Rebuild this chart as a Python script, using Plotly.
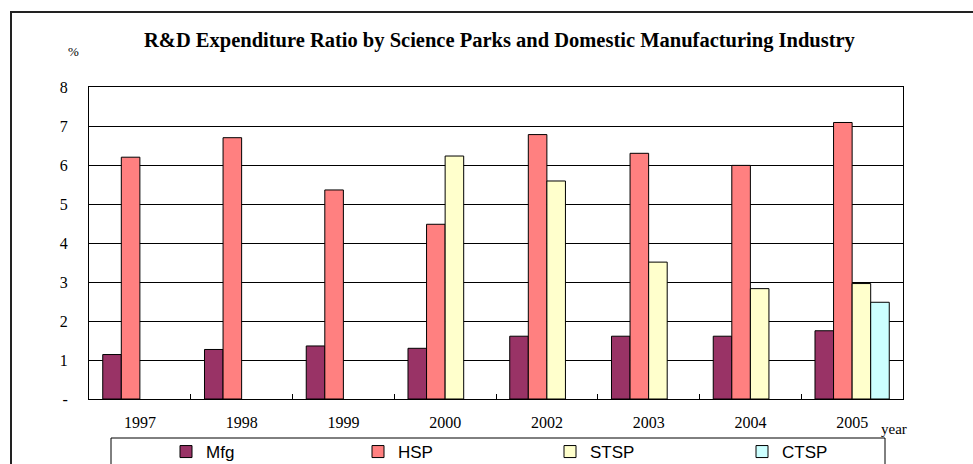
import plotly.graph_objects as go

years = ["1997", "1998", "1999", "2000", "2002", "2003", "2004", "2005"]
mfg = [1.14, 1.27, 1.36, 1.30, 1.61, 1.61, 1.61, 1.75]
hsp = [6.20, 6.70, 5.36, 4.48, 6.78, 6.30, 5.99, 7.09]
stsp = [None, None, None, 6.23, 5.59, 3.51, 2.83, 2.96]
ctsp = [None, None, None, None, None, None, None, 2.48]
ytick_vals = [0, 1, 2, 3, 4, 5, 6, 7, 8]
ytick_text = ["-", "1", "2", "3", "4", "5", "6", "7", "8"]

series = [
    ("Mfg", mfg, "#993366"),
    ("HSP", hsp, "#FF8080"),
    ("STSP", stsp, "#FFFFCC"),
    ("CTSP", ctsp, "#CCFFFF"),
]

SERIF = "Liberation Serif, Times New Roman, serif"
SANS = "Liberation Sans, Arial, sans-serif"

fig = go.Figure()
for name, vals, col in series:
    fig.add_trace(go.Bar(
        x=years, y=vals, name=name,
        marker=dict(color=col, line=dict(color="#000000", width=1)),
    ))

W, H = 973, 464
L, R, T, B = 89, 70, 87, 65
pw, ph = W - L - R, H - T - B

def px_x(x):
    return (x - L) / pw

def px_y(y):
    return (H - B - y) / ph

fig.update_layout(
    width=W, height=H,
    margin=dict(l=L, r=R, t=T, b=B, autoexpand=False),
    paper_bgcolor="white", plot_bgcolor="white",
    barmode="group", bargap=0.27, bargroupgap=0,
    showlegend=True,
    legend=dict(
        orientation="h", x=px_x(166), xanchor="left",
        y=px_y(434), yanchor="top",
        font=dict(family=SANS, size=17, color="#000000"),
        bgcolor="rgba(0,0,0,0)", borderwidth=0,
        entrywidth=147, entrywidthmode="pixels",
        traceorder="normal",
    ),
    xaxis=dict(
        type="category",
        showline=True, linecolor="#000000", linewidth=1, mirror=True,
        ticks="inside", tickson="boundaries", ticklen=5, tickcolor="#000000",
        ticklabelstandoff=9,
        tickfont=dict(family=SERIF, size=16, color="#000000"),
        showgrid=False,
    ),
    yaxis=dict(
        range=[0, 8],
        tickvals=ytick_vals, ticktext=ytick_text,
        showline=True, linecolor="#000000", linewidth=1, mirror=True,
        showgrid=True, gridcolor="#000000", gridwidth=1,
        ticks="", ticklabelstandoff=17,
        tickfont=dict(family=SERIF, size=16, color="#000000"),
        zeroline=False,
    ),
    shapes=[
        dict(type="rect", xref="paper", yref="paper",
             x0=px_x(11), x1=px_x(1000), y0=px_y(500), y1=px_y(12),
             line=dict(color="#222222", width=2), fillcolor="rgba(0,0,0,0)",
             layer="below"),
        dict(type="rect", xref="paper", yref="paper",
             x0=px_x(111), x1=px_x(885), y0=px_y(520), y1=px_y(438),
             line=dict(color="#000000", width=1), fillcolor="rgba(0,0,0,0)",
             layer="below"),
    ],
    annotations=[
        dict(text="<b>R&D Expenditure Ratio by Science Parks and Domestic Manufacturing Industry</b>",
             xref="paper", yref="paper", x=px_x(500), y=px_y(40),
             xanchor="center", yanchor="middle", showarrow=False,
             font=dict(family=SERIF, size=20.5, color="#000000")),
        dict(text="%", xref="paper", yref="paper", x=px_x(73), y=px_y(52),
             xanchor="center", yanchor="middle", showarrow=False,
             font=dict(family=SERIF, size=13, color="#000000")),
        dict(text="year", xref="paper", yref="paper", x=px_x(894), y=px_y(429),
             xanchor="center", yanchor="middle", showarrow=False,
             font=dict(family=SERIF, size=15, color="#000000")),
    ],
)

fig.write_html(
    "out.html",
    config={"displayModeBar": False},
    post_script="document.body.style.margin='0px';document.body.style.overflow='hidden';",
)
